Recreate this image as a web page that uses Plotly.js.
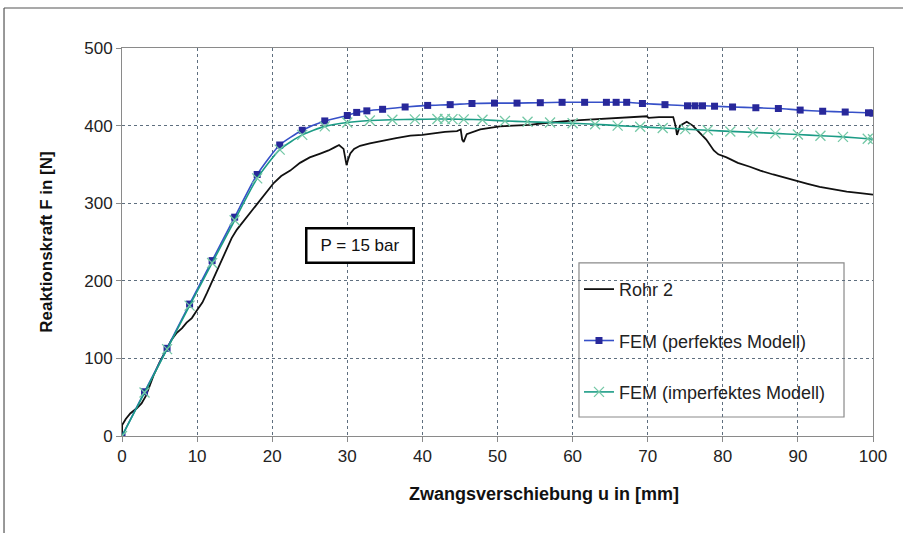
<!DOCTYPE html>
<html>
<head>
<meta charset="utf-8">
<script src="https://cdn.plot.ly/plotly-3.0.1.min.js"></script>
<style>html,body{margin:0;padding:0;background:#fff;}#chart{width:903px;height:533px;}</style>
</head>
<body>
<div id="chart"></div>
<script>
// Rohr 2 (Messung)
const rohrU = [0,0.02,0.5,1.1,2.0,2.6,3.2,4.2,5.0,5.95,6.6,7.3,8.0,8.6,9.3,10.05,10.7,11.3,12.0,12.6,13.3,14.0,14.6,15.3,16.2,17.05,18.4,19.3,20.2,21.2,22.4,23.7,25.0,26.4,27.5,28.3,28.9,29.5,29.9,30.1,30.4,30.9,31.7,33.0,34.8,36.5,38.4,40.0,41.5,43.0,44.6,45.1,45.3,45.5,45.9,47.7,50.3,52.0,54.3,56.0,57.9,59.5,61.0,63.0,65.4,67.5,69.9,70.1,71.5,73.4,73.7,73.9,74.3,75.2,76.0,77.0,77.8,78.8,79.4,80.5,82.0,83.6,85.0,86.7,88.2,89.8,91.3,92.9,94.5,96.5,98.3,100];
const rohrF = [0,14,22,29,36,42,52,78,95,113,124,133,139,146,152,163,172,184,199,214,229,244,255,266,277,288,305,316,326,335,342,352,359,364,368,372,375,370,349,356,364,370,374,377,381,384,387,388,390,392,393,395,382,379,389,395,399,400,401,403,405,406,407,408,410,411,412,410,411,411,400,388,400,405,400,390,382,368,363,359,352,347,342,337,333,328,325,321,318,315,313,311];

// FEM (perfektes Modell)
const perfU = [0,3,6,9,12,15,18,21,24,27,30,31.25,32.6,34.7,37.7,40.7,43.7,46.6,49.6,52.6,55.7,58.6,61.6,64.5,65.8,67.2,69.3,72.3,75.3,76.3,77.3,78.9,81.3,84.4,87.4,90.3,93.3,96.3,99.4,100];
const perfF = [0,57,113,170,226,282,337,375,394,406,413,417,419,421,424,426,427,428.5,429,429,429.5,430,430,430,430,430,428.5,427,425.5,425.5,425.5,425,424,423,422,420,418.5,417.5,416.5,416];

// FEM (imperfektes Modell)
const impU = [0,3,6,9,12,15,18,21,24,27,30,33,36,39,42,43,44,45.5,48,51,54,57,60,63,66,69,72,75,78,81,84,87,90,93,96,99.3,100];
const impF = [0,56,112,168,223,278,332,369,388,399,404,406.5,407.5,408,408.5,408.5,408.3,408,407.5,406,405,404,403,401.8,400,398.5,397,395.5,394,392.5,391.3,390,388.5,387,385.5,383,382.5];

const names = ["Rohr 2", "FEM (perfektes Modell)", "FEM (imperfektes Modell)"];
const xTicks = [0,10,20,30,40,50,60,70,80,90,100];
const yTicks = [0,100,200,300,400,500];

const FONT = "Liberation Sans, Arial, sans-serif";

const traces = [
  {x: rohrU, y: rohrF, name: names[0], mode: "lines", legendgroup: "a",
   line: {color: "#111111", width: 1.8}},
  {x: perfU, y: perfF, name: names[1], mode: "lines+markers", legendgroup: "b",
   line: {color: "#3650c8", width: 1.6, shape: "spline", smoothing: 0.6},
   marker: {symbol: "square", size: 7, color: "#28289a"}},
  {x: impU, y: impF, name: names[2], mode: "lines+markers", legendgroup: "c",
   line: {color: "#1c9c86", width: 1.6, shape: "spline", smoothing: 0.6},
   marker: {symbol: "x-thin", size: 10, color: "#74c8a6", line: {width: 1.3, color: "#74c8a6"}}}
];

const axisCommon = {
  showline: true, linecolor: "#8a8a8a", linewidth: 1, mirror: true,
  ticks: "outside", ticklen: 5, tickcolor: "#8a8a8a",
  showgrid: true, gridcolor: "#5f6f7f", griddash: "dot", gridwidth: 1,
  zeroline: false, tickfont: {family: FONT, size: 17, color: "#222"}
};

const layout = {
  width: 903, height: 533,
  margin: {l: 122, r: 30, t: 48, b: 97},
  paper_bgcolor: "#ffffff", plot_bgcolor: "#ffffff",
  showlegend: true,
  xaxis: Object.assign({}, axisCommon, {
    range: [0, 100], tickvals: xTicks, ticktext: xTicks.map(String)
  }),
  yaxis: Object.assign({}, axisCommon, {
    range: [0, 500], tickvals: yTicks, ticktext: yTicks.map(String),
    title: {text: "Reaktionskraft F in [N]", font: {family: FONT, size: 17, color: "#111", weight: "bold"}, standoff: 27}
  }),
  legend: {
    x: 0.6085, xanchor: "left", y: 0.4255, yanchor: "top",
    bgcolor: "rgba(0,0,0,0)", borderwidth: 0,
    font: {family: FONT, size: 18, color: "#222"},
    traceorder: "grouped", tracegroupgap: 25
  },
  shapes: [
    {type: "rect", xref: "paper", yref: "paper", x0: 0.6085, x1: 0.9614, y0: 0.049, y1: 0.446,
     line: {color: "#8a8a8a", width: 1.2}, fillcolor: "#ffffff", layer: "below"},
    {type: "line", xref: "paper", yref: "paper", x0: -0.1571, x1: 1.045, y0: 1.1031, y1: 1.1031,
     line: {color: "#555", width: 1.2}},
    {type: "line", xref: "paper", yref: "paper", x0: -0.1571, x1: -0.1571, y0: 1.1031, y1: -0.26,
     line: {color: "#555", width: 1.2}}
  ],
  annotations: [
    {x: 31.7, y: 246, xref: "x", yref: "y", text: "P = 15 bar", showarrow: false,
     font: {family: FONT, size: 17, color: "#111"},
     bgcolor: "#ffffff", bordercolor: "#000", borderwidth: 2.5, width: 103, height: 30},
    {x: 0.562, y: -0.1495, xref: "paper", yref: "paper", xanchor: "center", yanchor: "middle",
     text: "<b>Zwangsverschiebung u in [mm]</b>", showarrow: false,
     font: {family: FONT, size: 18, color: "#111"}}
  ]
};

Plotly.newPlot("chart", traces, layout, {displayModeBar: false, staticPlot: true});
</script>
</body>
</html>
